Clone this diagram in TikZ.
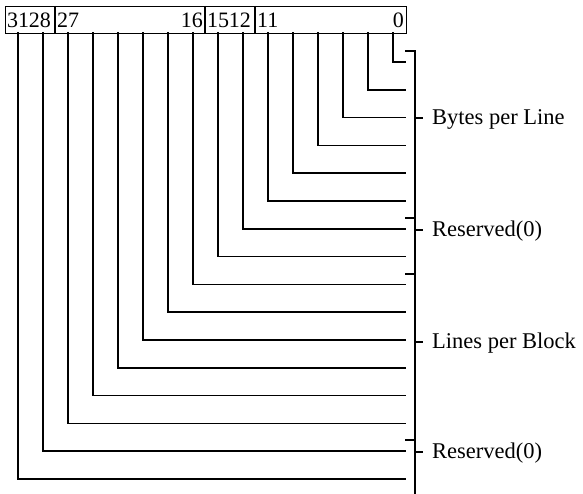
\documentclass[tikz,border=0pt]{standalone}
\usepackage{fontspec}
\setmainfont{Liberation Serif}
\begin{document}
\begin{tikzpicture}[x=1pt,y=-1pt,
  wire/.style={line width=1.5pt,line cap=rect},
  frame/.style={line width=1.3pt},
  bit/.style={inner sep=0pt,font=\fontsize{22}{26}\selectfont},
  lbl/.style={inner sep=0pt,anchor=west,font=\fontsize{22.5}{26}\selectfont}]
\useasboundingbox (0,0) rectangle (583,494);
% register bar
\node[frame,draw,minimum width=401pt,minimum height=27pt,inner sep=0pt,anchor=north west] (bar) at (5,6) {};
\draw[frame] (55,6) -- (55,33) (205,6) -- (205,33) (255,6) -- (255,33);
\node[bit,anchor=base west] (b31) at (7,28) {31};
\node[bit,anchor=base east] (b28) at (51,28) {28};
\node[bit,anchor=base west] (b27) at (57,28) {27};
\node[bit,anchor=base east] (b16) at (203,28) {16};
\node[bit,anchor=base west] (b15) at (207,28) {15};
\node[bit,anchor=base east] (b12) at (251,28) {12};
\node[bit,anchor=base west] (b11) at (257,28) {11};
\node[bit,anchor=base east] (b0) at (404,28) {0};
% field lines
\foreach \i in {0,...,15}{
  \coordinate (t\i) at ({393-25*\i},33);
  \coordinate (c\i) at ({393-25*\i},{62+27.8*\i});
  \coordinate (e\i) at (405,{62+27.8*\i});
  \draw[wire] (t\i) -- (c\i) -- (e\i);
}
% bracket
\coordinate (btop) at (415,51);
\coordinate (bbot) at (415,494);
\coordinate (s0) at (405,51);
\draw[wire,line cap=butt] (s0) -- (btop) -- (bbot);
\foreach \n/\y in {1/218,2/274,3/440}{
  \coordinate (sa\n) at (405,\y);
  \coordinate (sb\n) at (415,\y);
  \draw[wire,line cap=butt] (sa\n) -- (sb\n);
}
\foreach \n/\y/\t in {1/118/Bytes per Line,2/230/Reserved(0),3/342/Lines per Block,4/452/Reserved(0)}{
  \coordinate (ka\n) at (415,\y);
  \coordinate (kb\n) at (423,\y);
  \draw[wire,line cap=butt] (ka\n) -- (kb\n);
  \node[lbl] (L\n) at (432,{\y+1.5}) {\t};
}
\end{tikzpicture}
\end{document}
